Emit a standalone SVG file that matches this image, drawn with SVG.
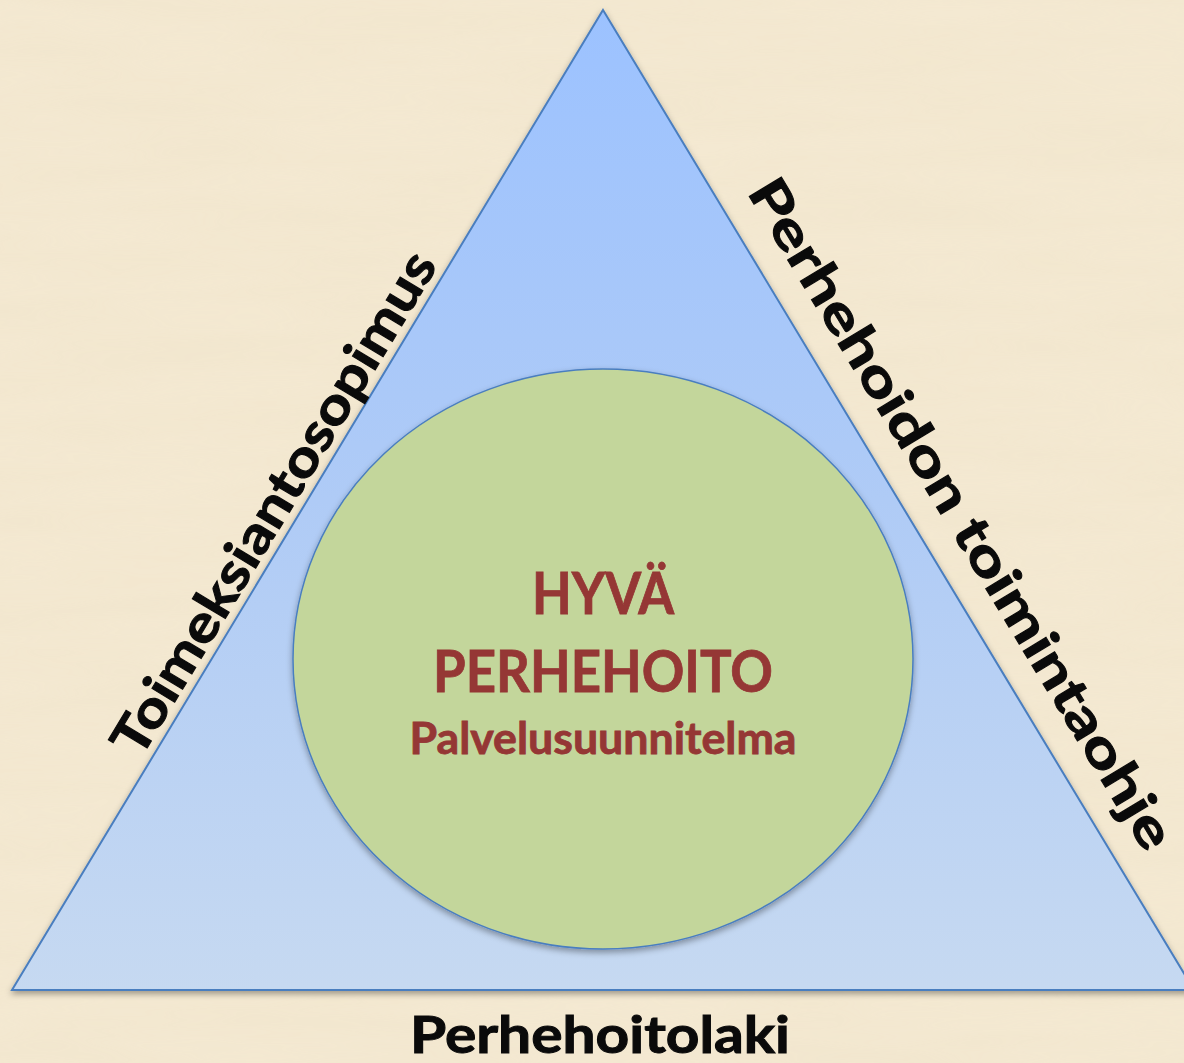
<svg xmlns="http://www.w3.org/2000/svg" width="1184" height="1063" viewBox="0 0 1184 1063">
  <style>
    .side { font-family: Lato, "Open Sans", "Liberation Sans", sans-serif; font-weight: 700; font-size: 52px; fill: #0a0a0a; stroke: #0a0a0a; stroke-width: 1; }
    .center { font-family: Lato, "Open Sans", "Liberation Sans", sans-serif; font-weight: 700; fill: #953735; stroke: #953735; stroke-width: 0.8; text-anchor: middle; }
  </style>
  <defs>
    <linearGradient id="triGrad" x1="0" y1="10" x2="0" y2="990" gradientUnits="userSpaceOnUse">
      <stop offset="0" stop-color="#9cc2ff"/>
      <stop offset="0.5" stop-color="#afcbf6"/>
      <stop offset="1" stop-color="#c6d9f1"/>
    </linearGradient>
    <filter id="shadow" x="-10%" y="-10%" width="120%" height="120%">
      <feDropShadow dx="0" dy="3" stdDeviation="3" flood-color="#000" flood-opacity="0.35"/>
    </filter>
    <filter id="paper" x="0" y="0" width="100%" height="100%">
      <feTurbulence type="fractalNoise" baseFrequency="0.004 0.03" numOctaves="3" seed="7" result="n"/>
      <feColorMatrix in="n" type="matrix" values="0 0 0 0 0.80  0 0 0 0 0.70  0 0 0 0 0.50  0 0 0 0.35 -0.05" result="c"/>
      <feComposite in="c" in2="SourceGraphic" operator="in"/>
    </filter>
  </defs>

  <g id="background">
    <rect x="0" y="0" width="1184" height="1063" fill="#f4e9d2"/>
    <rect x="0" y="0" width="1184" height="1063" fill="#f4e9d2" filter="url(#paper)" opacity="0.6"/>
  </g>

  <g id="triangle">
    <polygon points="603,10 1194,990 12,990" fill="url(#triGrad)" stroke="#4a7ebf" stroke-width="2" stroke-linejoin="miter" filter="url(#shadow)"/>
  </g>

  <g id="circle">
    <ellipse cx="603" cy="659" rx="310" ry="290" fill="#c3d69b" stroke="#4a7ebf" stroke-width="1.5" filter="url(#shadow)"/>
    <text class="center" x="603" y="614" font-size="57" textLength="142" lengthAdjust="spacingAndGlyphs">HYVÄ</text>
    <text class="center" x="603" y="692" font-size="58" textLength="340" lengthAdjust="spacingAndGlyphs">PERHEHOITO</text>
    <text class="center" x="603" y="754" font-size="43" textLength="387" lengthAdjust="spacingAndGlyphs">Palvelusuunnitelma</text>
  </g>

  <g id="label-left">
    <text class="side" transform="translate(140,760) rotate(-58.91)" x="0" y="0" textLength="578" lengthAdjust="spacingAndGlyphs">Toimeksiantosopimus</text>
  </g>

  <g id="label-right">
    <text class="side" transform="translate(746.5,192) rotate(58.91)" x="0" y="0" textLength="773" lengthAdjust="spacingAndGlyphs">Perhehoidon toimintaohje</text>
  </g>

  <g id="label-bottom">
    <text class="side" x="410" y="1053" textLength="380" lengthAdjust="spacingAndGlyphs">Perhehoitolaki</text>
  </g>

  <g id="connectors"></g>
</svg>
